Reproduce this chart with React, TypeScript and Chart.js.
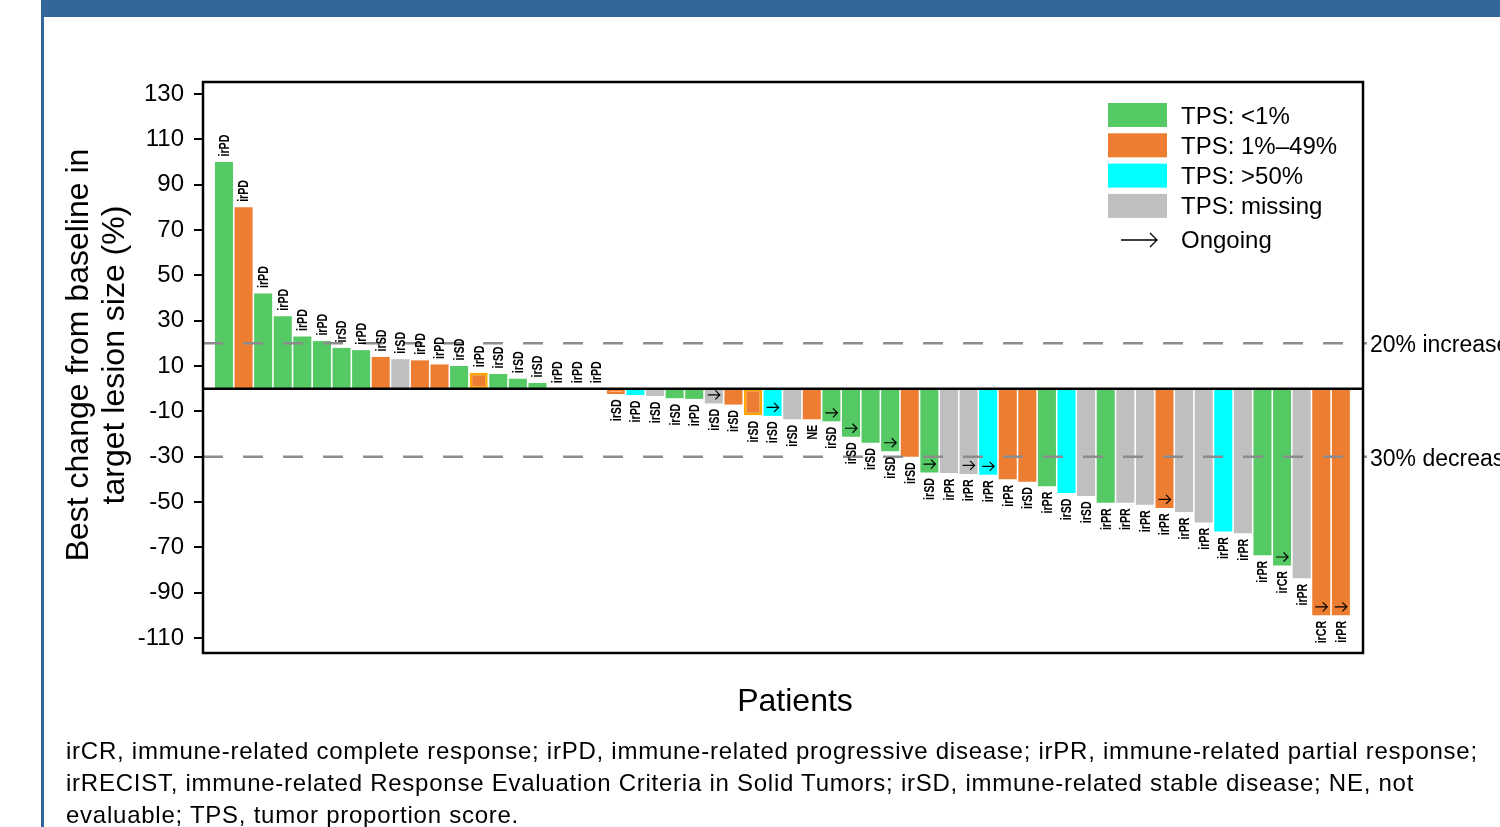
import React, { useEffect, useRef } from 'react';
import { Chart, registerables } from 'chart.js';

Chart.register(...registerables);

// ---------- DATA ----------
const changes: number[] = [
  100, 80, 42, 32, 23, 21, 18, 17, 14, 13,
  12.5, 10.7, 10, 7, 6.5, 4.4, 2.5, 0, 0, 0,
  -2.3, -2.8, -3.2, -4.2, -4.5, -6.5, -7, -11.7, -12, -13.5,
  -13.5, -14.4, -21.2, -23.8, -27.6, -30, -37, -37.2, -37.6, -38,
  -40, -41, -43, -46, -47.3, -50.3, -50.3, -51.2, -52.6, -54.4,
  -59, -63, -63.8, -73.5, -78, -83.6, -100, -100,
];

// G = <1%, O = 1%-49%, C = >50%, M = missing
const tps: string[] = [
  'G', 'O', 'G', 'G', 'G', 'G', 'G', 'G', 'O', 'M',
  'O', 'O', 'G', 'O', 'G', 'G', 'G', 'G', 'G', 'G',
  'O', 'C', 'M', 'G', 'G', 'M', 'O', 'O', 'C', 'M',
  'O', 'G', 'G', 'G', 'G', 'O', 'G', 'M', 'M', 'C',
  'O', 'O', 'G', 'C', 'M', 'G', 'M', 'M', 'O', 'M',
  'M', 'C', 'M', 'G', 'G', 'M', 'O', 'O',
];

const responses: string[] = [
  'irPD', 'irPD', 'irPD', 'irPD', 'irPD', 'irPD', 'irSD', 'irPD', 'irSD', 'irSD',
  'irPD', 'irPD', 'irSD', 'irPD', 'irSD', 'irSD', 'irSD', 'irPD', 'irPD', 'irPD',
  'irSD', 'irPD', 'irSD', 'irSD', 'irPD', 'irSD', 'irSD', 'irSD', 'irSD', 'irSD',
  'NE', 'irSD', 'irSD', 'irSD', 'irSD', 'irSD', 'irSD', 'irPR', 'irPR', 'irPR',
  'irPR', 'irSD', 'irPR', 'irSD', 'irSD', 'irPR', 'irPR', 'irPR', 'irPR', 'irPR',
  'irPR', 'irPR', 'irPR', 'irPR', 'irCR', 'irPR', 'irCR', 'irPR',
];

// 1 = ongoing
const ongoing: number[] = [
  0, 0, 0, 0, 0, 0, 0, 0, 0, 0,
  0, 0, 0, 0, 0, 0, 0, 0, 0, 0,
  0, 0, 0, 0, 0, 1, 0, 0, 1, 0,
  0, 1, 1, 0, 1, 0, 1, 0, 1, 1,
  0, 0, 0, 0, 0, 0, 0, 0, 1, 0,
  0, 0, 0, 0, 1, 0, 1, 1,
];

// special outlines: 'gold' = orange bar with gold border, 'open' = open bar with orange border
const outline: string[] = changes.map(() => '');
outline[13] = 'gold';
outline[27] = 'gold';
outline[20] = 'open';

const yTicks: number[] = [130, 110, 90, 70, 50, 30, 10, -10, -30, -50, -70, -90, -110];
const refLines: number[] = [20, -30];
const refLabels: string[] = ['20% increase', '30% decrease'];

const legendKeys: string[] = ['G', 'O', 'C', 'M'];
const legendLabels: string[] = ['TPS: <1%', 'TPS: 1%–49%', 'TPS: >50%', 'TPS: missing'];
const ongoingLabel = 'Ongoing';

const yTitle: string[] = ['Best change from baseline in', 'target lesion size (%)'];
const xTitle = 'Patients';

const footnote: string[] = [
  'irCR, immune-related complete response; irPD, immune-related progressive disease; irPR, immune-related partial response;',
  'irRECIST, immune-related Response Evaluation Criteria in Solid Tumors; irSD, immune-related stable disease; NE, not',
  'evaluable; TPS, tumor proportion score.',
];

// ---------- STYLE ----------
const COLORS: Record<string, string> = {
  G: '#54C964',
  O: '#ED7D31',
  C: '#00FFFF',
  M: '#BFBFBF',
};
const FONT = '"Liberation Sans", Arial, Helvetica, sans-serif';

function drawArrow(ctx: CanvasRenderingContext2D, cx: number, cy: number, len: number, head: number, lw: number) {
  const x0 = cx - len / 2;
  const x1 = cx + len / 2;
  ctx.save();
  ctx.strokeStyle = '#000';
  ctx.lineWidth = lw;
  ctx.beginPath();
  ctx.moveTo(x0, cy);
  ctx.lineTo(x1, cy);
  ctx.moveTo(x1 - head, cy - head);
  ctx.lineTo(x1, cy);
  ctx.lineTo(x1 - head, cy + head);
  ctx.stroke();
  ctx.restore();
}

const overlayPlugin = {
  id: 'overlay',
  afterDatasetsDraw(chart: any) {
    const { ctx, chartArea: a, scales } = chart;
    const y = scales.y;
    ctx.save();

    // zero line
    const y0 = y.getPixelForValue(0);
    ctx.strokeStyle = '#000';
    ctx.lineWidth = 2.5;
    ctx.beginPath();
    ctx.moveTo(a.left, y0);
    ctx.lineTo(a.right, y0);
    ctx.stroke();

    // reference lines
    ctx.setLineDash([20, 20]);
    ctx.strokeStyle = '#8C8C8C';
    ctx.lineWidth = 2.5;
    refLines.forEach((v) => {
      const py = y.getPixelForValue(v);
      ctx.beginPath();
      ctx.moveTo(a.left, py);
      ctx.lineTo(a.right + 4, py);
      ctx.stroke();
    });
    ctx.setLineDash([]);

    // frame
    ctx.strokeStyle = '#000';
    ctx.lineWidth = 2.5;
    ctx.strokeRect(a.left, a.top, a.right - a.left, a.bottom - a.top);

    // ref labels
    ctx.fillStyle = '#000';
    ctx.font = `23px ${FONT}`;
    ctx.textAlign = 'left';
    ctx.textBaseline = 'alphabetic';
    refLines.forEach((v, i) => {
      const py = y.getPixelForValue(v);
      ctx.fillText(refLabels[i], a.right + 7, py + 9);
    });

    // response labels + ongoing arrows
    const meta = chart.getDatasetMeta(0);
    meta.data.forEach((bar: any, i: number) => {
      const v = changes[i];
      const py = y.getPixelForValue(v);
      const px = bar.x;
      ctx.save();
      ctx.font = `bold 14px ${FONT}`;
      ctx.fillStyle = '#000';
      ctx.textBaseline = 'middle';
      ctx.translate(px + 1, v >= 0 ? py - 5.5 : py + 5.5);
      ctx.rotate(-Math.PI / 2);
      ctx.scale(0.76, 1);
      ctx.textAlign = v >= 0 ? 'left' : 'right';
      ctx.fillText(responses[i], 0, 0);
      ctx.restore();

      if (ongoing[i]) {
        drawArrow(ctx, px, py - 8.5, 12, 4.5, 1.2);
      }
    });

    ctx.restore();
  },
  afterDraw(chart: any) {
    const { ctx, chartArea: a } = chart;
    ctx.save();
    ctx.fillStyle = '#000';

    // y title (two lines)
    ctx.font = `32px ${FONT}`;
    ctx.textAlign = 'center';
    ctx.textBaseline = 'alphabetic';
    const baseX = [88, 124];
    yTitle.forEach((t, i) => {
      ctx.save();
      ctx.translate(baseX[i], 355);
      ctx.rotate(-Math.PI / 2);
      ctx.fillText(t, 0, 0);
      ctx.restore();
    });

    // x title
    ctx.font = `32px ${FONT}`;
    ctx.textAlign = 'center';
    ctx.fillText(xTitle, (a.left + a.right) / 2 + 12, 711);

    // legend
    const bx = 1108;
    const bw = 59;
    const bh = 24;
    ctx.font = `24px ${FONT}`;
    ctx.textAlign = 'left';
    legendKeys.forEach((k, i) => {
      const top = 103 + i * 30.3;
      ctx.fillStyle = COLORS[k];
      ctx.fillRect(bx, top, bw, bh);
      ctx.fillStyle = '#000';
      ctx.fillText(legendLabels[i], 1181, top + bh / 2 + 8.5);
    });
    drawArrow(ctx, 1139, 240, 36, 7, 1.3);
    ctx.fillText(ongoingLabel, 1181, 247.5);

    ctx.restore();
  },
};

export default function App() {
  const canvasRef = useRef<HTMLCanvasElement>(null);

  useEffect(() => {
    document.body.style.margin = '0';
    Chart.defaults.font.family = FONT;
    Chart.defaults.color = '#000';

    const data = changes.map((v, i) => ({ x: i + 1, y: v }));
    const bg = changes.map((_, i) => (outline[i] === 'open' ? '#FFFFFF' : COLORS[tps[i]]));
    const bc = changes.map((_, i) =>
      outline[i] === 'gold' ? '#FFA500' : outline[i] === 'open' ? '#ED7D31' : COLORS[tps[i]]
    );
    const bw = changes.map((_, i) => (outline[i] ? 2.5 : 0));

    const chart = new Chart(canvasRef.current as HTMLCanvasElement, {
      type: 'bar',
      data: {
        datasets: [
          {
            data,
            backgroundColor: bg,
            borderColor: bc,
            borderWidth: bw,
            borderSkipped: false,
            barPercentage: 0.92,
            categoryPercentage: 1,
          },
        ],
      },
      options: {
        animation: false,
        responsive: false,
        maintainAspectRatio: false,
        devicePixelRatio: 1,
        layout: { padding: { left: 0, top: 82, right: 137, bottom: 174 } },
        plugins: {
          legend: { display: false },
          tooltip: { enabled: false },
          title: { display: false },
        },
        scales: {
          x: {
            type: 'linear',
            min: -0.07,
            max: 59.13,
            offset: false,
            display: false,
          },
          y: {
            type: 'linear',
            min: -116.6,
            max: 135.3,
            border: { display: false },
            grid: {
              display: true,
              drawOnChartArea: false,
              drawTicks: true,
              tickLength: 9,
              color: '#000',
              lineWidth: 2,
            },
            ticks: {
              padding: 10,
              color: '#000',
              font: { size: 24, family: FONT },
              callback: (v: any) => String(v),
            },
            afterBuildTicks: (scale: any) => {
              scale.ticks = yTicks.map((v) => ({ value: v }));
            },
            afterFit: (scale: any) => {
              scale.width = 203;
            },
          },
        },
      },
      plugins: [overlayPlugin],
    } as any);

    return () => chart.destroy();
  }, []);

  return (
    <div
      style={{
        position: 'relative',
        width: 1500,
        height: 827,
        overflow: 'hidden',
        background: '#FFFFFF',
        fontFamily: FONT,
      }}
    >
      <canvas
        ref={canvasRef}
        width={1500}
        height={827}
        style={{ position: 'absolute', left: 0, top: 0, width: 1500, height: 827 }}
      />
      <div style={{ position: 'absolute', left: 42, top: 0, width: 1458, height: 17, background: '#336699' }} />
      <div style={{ position: 'absolute', left: 41, top: 0, width: 3, height: 827, background: '#336699' }} />
      <div
        style={{
          position: 'absolute',
          left: 66,
          top: 735,
          fontSize: 24,
          letterSpacing: '0.75px',
          lineHeight: '32px',
          color: '#000',
          whiteSpace: 'nowrap',
        }}
      >
        {footnote.map((t, i) => (
          <div key={i}>{t}</div>
        ))}
      </div>
    </div>
  );
}
